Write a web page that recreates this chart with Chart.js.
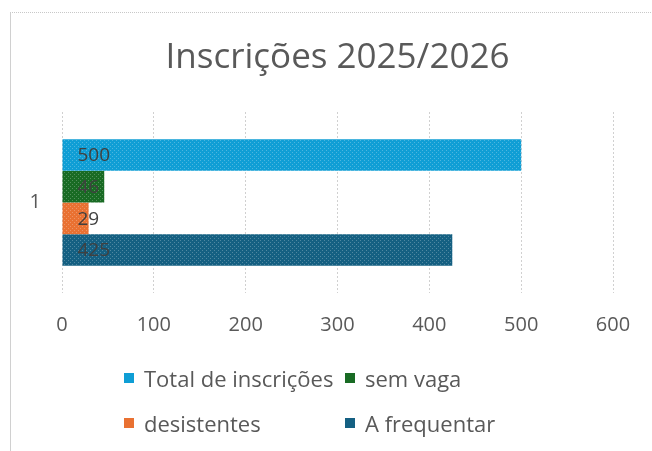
<!DOCTYPE html>
<html>
<head>
<meta charset="utf-8">
<script src="https://cdn.jsdelivr.net/npm/chart.js@4/dist/chart.umd.min.js"></script>
<style>
    body { margin: 0; background: #fff; font-family: "Open Sans", sans-serif; }
    #wrap { position: relative; width: 652px; height: 451px; overflow: hidden; }
    #frame { position: absolute; left: 10px; top: 12px; width: 660px; height: 460px;
             border-left: 1px solid #d0d0d0; border-top: 1px dotted #c8c8c8; }
    #legend { position: absolute; left: 124px; top: 363px; display: grid;
              grid-template-columns: 221px 200px; row-gap: 15px; color: #595959;
              font-size: 22px; line-height: 30px; }
    #legend div { display: flex; align-items: center; white-space: nowrap; }
    #legend span.box { width: 10px; height: 10px; margin-right: 10px; display: inline-block; }
</style>
</head>
<body>
<div id="wrap">
    <div id="frame"></div>
    <canvas id="chart" width="652" height="451"></canvas>
    <div id="legend"></div>
</div>
<script>
// datos del gráfico
const categories = ['1'];
const seriesNames = ['Total de inscrições', 'sem vaga', 'desistentes', 'A frequentar'];
const seriesValues = [[500], [46], [29], [425]];
const seriesColors = ['#0F9ED5', '#196B24', '#E97132', '#156082'];
const xTicks = [0, 100, 200, 300, 400, 500, 600];

// patrón punteado como en el original
function dotted(color) {
    const c = document.createElement('canvas');
    c.width = 4; c.height = 4;
    const g = c.getContext('2d');
    g.fillStyle = color;
    g.fillRect(0, 0, 4, 4);
    g.fillStyle = 'rgba(255,255,255,0.25)';
    g.fillRect(0, 0, 1, 1);
    g.fillRect(2, 2, 1, 1);
    return g.createPattern(c, 'repeat');
}

// etiquetas de valor dentro de la barra
const valueLabels = {
    id: 'valueLabels',
    afterDatasetsDraw(chart) {
        const ctx = chart.ctx;
        ctx.save();
        ctx.font = '19px "Open Sans", sans-serif';
        ctx.fillStyle = '#404040';
        ctx.textBaseline = 'middle';
        chart.data.datasets.forEach((ds, i) => {
            chart.getDatasetMeta(i).data.forEach((bar, j) => {
                ctx.fillText(String(ds.data[j]), bar.base + 15, bar.y + 1);
            });
        });
        ctx.restore();
    }
};

const ctx = document.getElementById('chart').getContext('2d');
new Chart(ctx, {
    type: 'bar',
    data: {
        labels: categories,
        datasets: seriesNames.map((name, i) => ({
            label: name,
            data: seriesValues[i],
            backgroundColor: dotted(seriesColors[i]),
            borderWidth: 0,
            categoryPercentage: 0.7,
            barPercentage: 1
        }))
    },
    options: {
        indexAxis: 'y',
        responsive: false,
        animation: false,
        layout: {
            padding: { left: 0, right: 39, top: 0, bottom: 0 }
        },
        plugins: {
            legend: { display: false },
            tooltip: { enabled: false },
            title: {
                display: true,
                fullSize: false,
                text: 'Inscrições 2025/2026',
                color: '#595959',
                font: { size: 35, family: '"Open Sans", sans-serif', weight: 'normal' },
                padding: { top: 37, bottom: 33 }
            }
        },
        scales: {
            x: {
                min: 0,
                max: 600,
                afterBuildTicks(axis) {
                    axis.ticks = xTicks.map(v => ({ value: v }));
                },
                afterFit(axis) {
                    axis.height = 158;
                },
                grid: {
                    color: '#d0d0d0',
                    drawTicks: false
                },
                border: { display: false, dash: [2, 2] },
                ticks: {
                    color: '#595959',
                    padding: 20,
                    font: { size: 20, family: '"Open Sans", sans-serif' }
                }
            },
            y: {
                afterFit(axis) {
                    axis.width = 62;
                },
                grid: { display: false, drawTicks: false },
                border: { display: false },
                ticks: {
                    color: '#595959',
                    padding: 21,
                    font: { size: 20, family: '"Open Sans", sans-serif' }
                }
            }
        }
    },
    plugins: [valueLabels]
});

// leyenda en HTML (dos columnas alineadas)
const legendEl = document.getElementById('legend');
seriesNames.forEach((name, i) => {
    const item = document.createElement('div');
    item.innerHTML = '<span class="box" style="background:' + seriesColors[i] + '"></span>' + name;
    legendEl.appendChild(item);
});
</script>
</body>
</html>
